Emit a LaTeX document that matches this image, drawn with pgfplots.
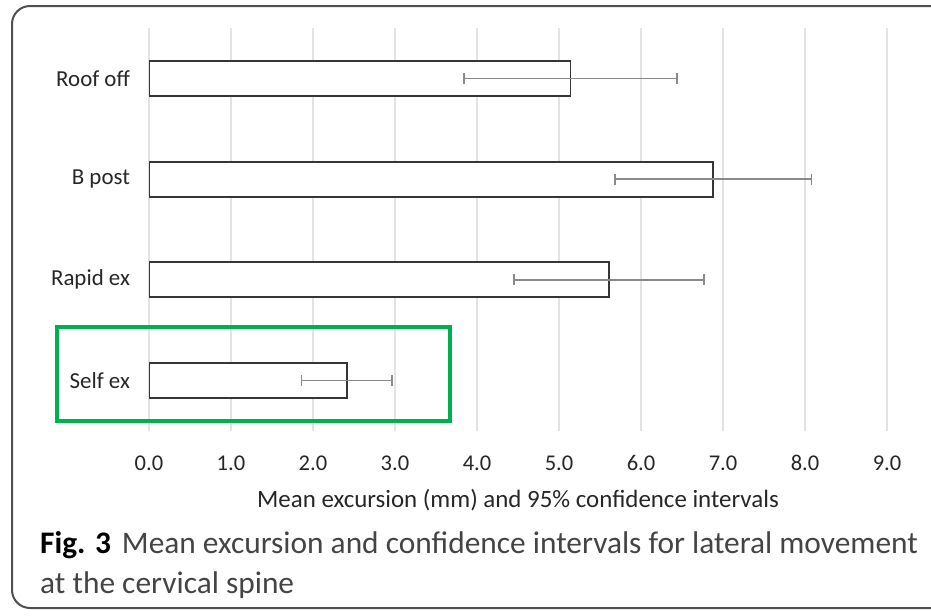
\documentclass[border=0pt]{standalone}
\usepackage{pgfplots}
\pgfplotsset{compat=1.18}
\usepackage{fontspec}
\setmainfont{Carlito}
\definecolor{txt}{HTML}{262626}
\definecolor{barc}{HTML}{363636}
\definecolor{errc}{HTML}{8A8A8A}
\definecolor{gridc}{HTML}{E3E3E3}
\definecolor{framec}{HTML}{505050}
\definecolor{capc}{HTML}{444444}
\definecolor{grn}{HTML}{00B050}
\begin{document}
\begin{tikzpicture}
\useasboundingbox (0bp,0bp) rectangle (931bp,-616bp);
\draw[framec, rounded corners=18bp, line width=2bp] (12bp,-6bp) rectangle (960bp,-608bp);
\begin{axis}[
  at={(149bp,-28bp)}, anchor=north west,
  scale only axis, width=738bp, height=403bp,
  xbar, bar width=35bp,
  xmin=0, xmax=9, ymin=-0.5, ymax=3.5, y dir=reverse,
  xtick={0,1,2,3,4,5,6,7,8,9},
  ytick={0,1,2,3}, yticklabels={Roof off,B post,Rapid ex,Self ex},
  xmajorgrids, major grid style={gridc, line width=1.6bp},
  axis line style={draw=none}, major tick length=0pt,
  xticklabel style={font=\fontsize{22.6}{26}\selectfont, text=txt, anchor=base, yshift=-39.5bp,
    /pgf/number format/.cd, fixed, fixed zerofill, precision=1, assume math mode=true},
  yticklabel style={font=\fontsize{23}{26}\selectfont, text=txt, xshift=-15.5bp},
  xlabel={Mean excursion (mm) and 95\% confidence intervals},
  xlabel style={font=\fontsize{25}{28}\selectfont, text=txt, at={(axis description cs:0.5,0)}, anchor=center, yshift=-69bp},
]
\addplot[fill=white, draw=barc, line width=1.8bp,
  error bars/.cd, x dir=both, x explicit,
  error bar style={errc, line width=1.7bp},
  error mark options={errc, rotate=90, mark size=5.5bp, line width=1.7bp}]
  coordinates {(5.14,0) +- (1.30,0) (6.88,1) +- (1.20,0) (5.61,2) +- (1.16,0) (2.41,3) +- (0.55,0)};
\end{axis}
\draw[grn, line width=4bp] (57bp,-327bp) rectangle (450bp,-421bp);
\node[anchor=base west, inner sep=0pt, text=capc, font=\fontsize{31.5}{36}\selectfont] at (40bp,-553bp) {\textbf{\color{black}Fig. 3}\hspace{0.35em}Mean excursion and confidence intervals for lateral movement};
\node[anchor=base west, inner sep=0pt, text=capc, font=\fontsize{31.5}{36}\selectfont] at (40bp,-593bp) {at the cervical spine};
\end{tikzpicture}
\end{document}
